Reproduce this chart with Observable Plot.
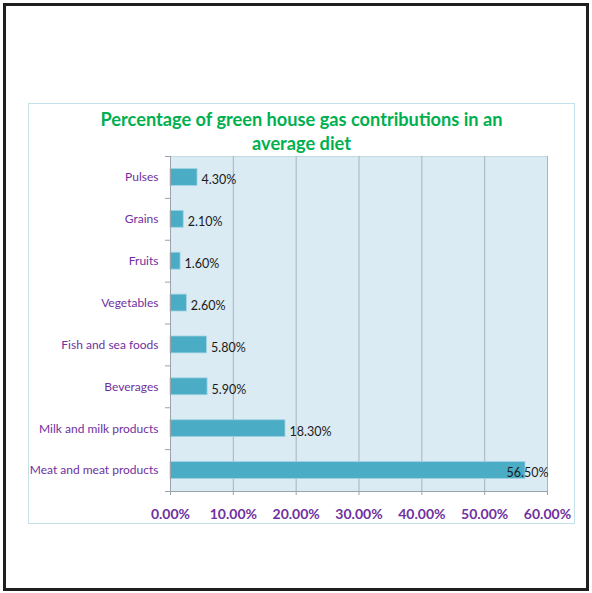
<!DOCTYPE html>
<html>
<head>
<meta charset="utf-8">
<script src="https://cdn.jsdelivr.net/npm/d3@7"></script>
<script src="https://cdn.jsdelivr.net/npm/@observablehq/plot@0.6"></script>
<style>
  html, body { margin: 0; padding: 0; background: #fff; }
  #wrap { position: relative; width: 592px; height: 593px; overflow: hidden; font-family: Lato, "Open Sans", sans-serif; }
  #outer { position: absolute; left: 3px; top: 3px; width: 580px; height: 582px; border: 3px solid #1e1e1e; }
  #inner { position: absolute; left: 28px; top: 103px; width: 545px; height: 419px; border: 1px solid #c4e0e8; }
  #title { position: absolute; left: 28px; width: 547px; top: 107px; text-align: center; color: #00B050; font-weight: bold; font-size: 18.2px; line-height: 24px; }
  #chart { position: absolute; left: 0; top: 0; }
</style>
</head>
<body>
<div id="wrap">
  <div id="outer"></div>
  <div id="inner"></div>
  <div id="title">Percentage of green house gas contributions in an<br>average diet</div>
  <div id="chart"></div>
</div>
<script>
const categories = ["Pulses", "Grains", "Fruits", "Vegetables", "Fish and sea foods", "Beverages", "Milk and milk products", "Meat and meat products"];
const values = [4.3, 2.1, 1.6, 2.6, 5.8, 5.9, 18.3, 56.5];
const xTicks = [0, 10, 20, 30, 40, 50, 60];

const data = categories.map((c, i) => ({category: c, value: values[i]}));
const xMax = d3.max(xTicks);
const W = 592, H = 593;
const mTop = 156, mBottom = 102, mLeft = 170, mRight = 45;
const bw = (H - mTop - mBottom) / categories.length;
const fmt = d => d.toFixed(2) + "%";
const purple = "#7030A0";
const last = categories[categories.length - 1];

const plot = Plot.plot({
  width: W,
  height: H,
  marginTop: mTop,
  marginBottom: mBottom,
  marginLeft: mLeft,
  marginRight: mRight,
  style: {background: "transparent", fontFamily: "Lato, 'Open Sans', sans-serif", overflow: "visible"},
  x: {domain: [0, xMax], ticks: xTicks},
  y: {domain: categories, padding: 0, round: false},
  marks: [
    Plot.frame({fill: "#DAEBF3", stroke: "#c2dae3"}),
    Plot.gridX(xTicks.slice(1), {stroke: "#aab4b9", strokeOpacity: 1}),
    Plot.barX(data, {y: "category", x: "value", fill: "#4BACC6", stroke: "#9fd3e2", strokeWidth: 0.8, insetTop: 12.5, insetBottom: 12.5}),
    Plot.ruleX([0], {stroke: "#9aa3a8"}),
    Plot.ruleY(categories, {y: d => d, x1: -0.8, x2: 0, dy: -bw / 2, stroke: "#9aa3a8"}),
    Plot.ruleY([last], {y: d => d, x1: -0.8, x2: xMax, dy: bw / 2, stroke: "#9aa3a8"}),
    Plot.text(data.filter(d => d.value < xMax * 0.85), {y: "category", x: "value", text: d => fmt(d.value), textAnchor: "start", dx: 4, dy: 3, fill: "#1a1a1a", fontSize: 12.5}),
    Plot.text(data.filter(d => d.value >= xMax * 0.85), {y: "category", x: () => xMax, text: d => fmt(d.value), textAnchor: "end", dx: 1, dy: 2, fill: "#1a1a1a", fontSize: 12.5}),
    Plot.axisY({tickSize: 0, tickPadding: 12, fill: purple, fontSize: 12, label: null}),
    Plot.axisX(xTicks, {tickSize: 4, tickPadding: 14, stroke: "#9aa3a8", fill: purple, fontSize: 14, fontWeight: "bold", tickFormat: fmt, label: null})
  ]
});
document.getElementById("chart").appendChild(plot);
</script>
</body>
</html>
